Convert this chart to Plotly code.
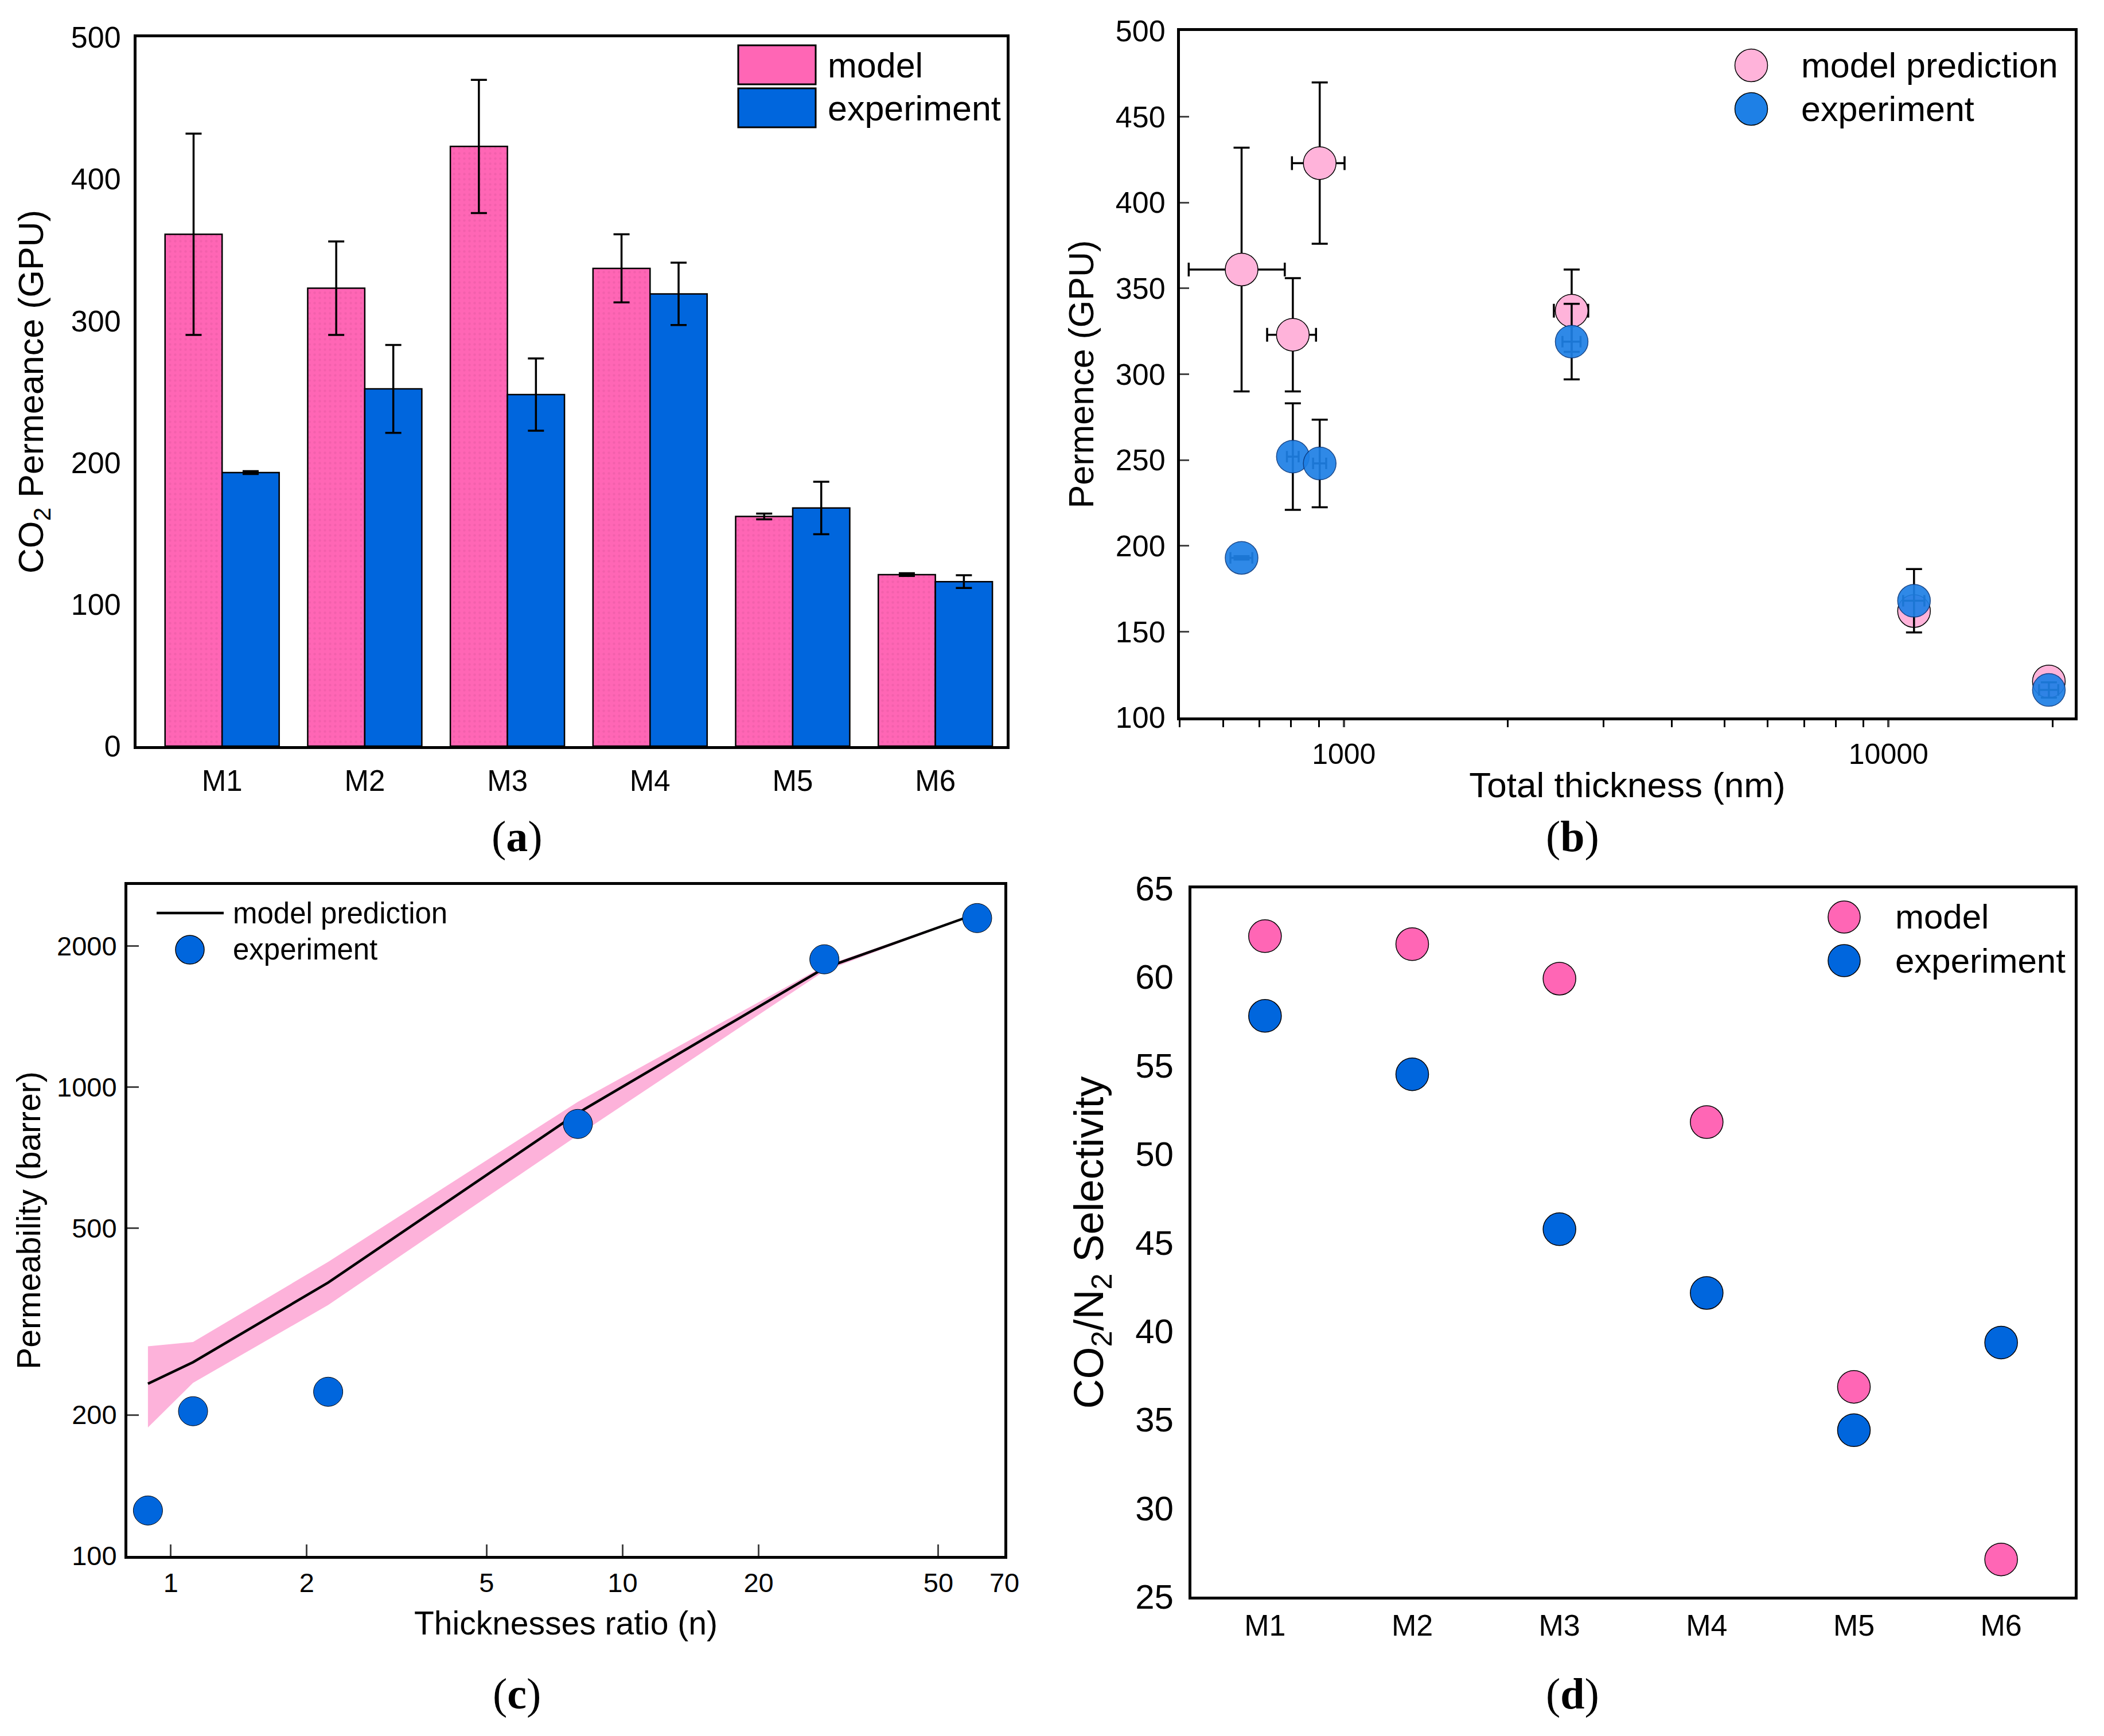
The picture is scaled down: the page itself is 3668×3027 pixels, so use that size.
import plotly.graph_objects as go

W = 3668
H = 3027
# the page body keeps an 8 px margin, so the figure is drawn that much smaller and shifted
PAGE_MARGIN = 8
FIG_W = W - 2 * PAGE_MARGIN
FIG_H = H - 2 * PAGE_MARGIN

# panel a: permeance bars
membranes = ['M1', 'M2', 'M3', 'M4', 'M5', 'M6']
model_perm = [361, 323, 423, 337, 162, 121]
exp_perm = [193, 252, 248, 319, 168, 116]
model_err = [71, 33, 47, 24, 2, 1]
exp_err = [1, 31, 25.5, 22, 18.5, 4.5]

# panel b: permeance against total thickness
thick_nm = [649, 806, 903, 2620, 11140, 19700]
model_thick_err = [130, 83, 100, 190, 200, 300]
exp_thick_err = [30, 20, 25, 100, 500, 800]
thick_minor = [500, 600, 700, 800, 900, 2000, 3000, 4000, 5000, 6000, 7000, 8000, 9000, 20000]

# panel c: permeability against thickness ratio
ratio = [0.89, 1.12, 2.23, 7.96, 27.96, 60.9]
perm_model = [233, 259, 383, 881, 1795, 2347]
perm_upper = [280, 286, 424, 931, 1815, 2350]
perm_lower = [188, 234, 343, 790, 1770, 2345]
perm_exp = [125, 203.6, 224, 835, 1875, 2296]
ratio_ticks = [1, 2, 5, 10, 20, 50, 70]
perm_ticks = [100, 200, 500, 1000, 2000]

# panel d: selectivity
model_sel = [62.3, 61.85, 59.9, 51.8, 36.85, 27.1]
exp_sel = [57.8, 54.5, 45.75, 42.15, 34.4, 39.35]

PINK = '#FF66B5'
BLUE = '#0066DD'
LIGHT_PINK = '#FFB3DA'
MID_BLUE = '#1E80E6'
BAND = '#FDB2DA'
FONT = 'Liberation Sans'


def px(x):
    return (x - PAGE_MARGIN) / FIG_W


def py(y):
    return 1 - (y - PAGE_MARGIN) / FIG_H


def axis(x0, x1, size=48, **kw):
    base = dict(
        domain=[px(x0), px(x1)], showline=True, linecolor='black', linewidth=5, mirror=True, automargin=False,
        showgrid=False, zeroline=False, ticks='', tickfont=dict(family=FONT, size=size, color='black'),
    )
    base.update(kw)
    return base


def yaxis(y0, y1, size=48, **kw):
    base = dict(
        domain=[py(y1), py(y0)], showline=True, linecolor='black', linewidth=5, mirror=True, automargin=False,
        showgrid=False, zeroline=False, ticks='', tickfont=dict(family=FONT, size=size, color='black'),
    )
    base.update(kw)
    return base


def title(text, size, standoff):
    return dict(text=text, font=dict(family=FONT, size=size, color='black'), standoff=standoff)


def label(text, x, y, size, anchor='left', family=FONT):
    return dict(text=text, x=px(x), y=py(y), xref='paper', yref='paper', showarrow=False,
                xanchor=anchor, yanchor='middle', font=dict(family=family, size=size, color='black'))


def dot(x, y, d, color):
    return dict(type='circle', xref='paper', yref='paper', x0=px(x - d / 2), x1=px(x + d / 2),
                y0=py(y + d / 2), y1=py(y - d / 2), fillcolor=color, line=dict(color='black', width=1.5))


def box(x0, y0, x1, y1, color):
    return dict(type='rect', xref='paper', yref='paper', x0=px(x0), x1=px(x1),
                y0=py(y1), y1=py(y0), fillcolor=color, line=dict(color='black', width=3))


fig = go.Figure()

# (a)
for name, vals, errs, col in [('model', model_perm, model_err, PINK), ('experiment', exp_perm, exp_err, BLUE)]:
    marker = dict(color=col, line=dict(color='black', width=2.5))
    if col == PINK:
        marker['pattern'] = dict(shape='.', fgcolor='#E85AA4', bgcolor=PINK, size=9, solidity=0.2)
    fig.add_trace(go.Bar(
        x=membranes, y=vals, name=name, marker=marker,
        error_y=dict(type='data', array=errs, color='black', thickness=3.5, width=14),
        xaxis='x', yaxis='y',
    ))

# (b)
fig.add_trace(go.Scatter(
    x=thick_nm, y=model_perm, mode='markers', name='model prediction',
    marker=dict(color=LIGHT_PINK, size=57, line=dict(color='black', width=1.5)),
    error_x=dict(type='data', array=model_thick_err, color='black', thickness=3.5, width=12),
    error_y=dict(type='data', array=model_err, color='black', thickness=3.5, width=14),
    xaxis='x2', yaxis='y2',
))
fig.add_trace(go.Scatter(
    x=thick_nm, y=exp_perm, mode='markers', name='experiment',
    marker=dict(color=MID_BLUE, size=57, opacity=0.92, line=dict(color='#0A3A80', width=1.5)),
    error_x=dict(type='data', array=exp_thick_err, color='black', thickness=3.5, width=10),
    error_y=dict(type='data', array=exp_err, color='black', thickness=3.5, width=14),
    xaxis='x2', yaxis='y2',
))

# (c)
fig.add_trace(go.Scatter(
    x=ratio + ratio[::-1], y=perm_upper + perm_lower[::-1], mode='lines', fill='toself',
    fillcolor=BAND, line=dict(width=0), hoverinfo='skip', name='model range',
    xaxis='x3', yaxis='y3',
))
fig.add_trace(go.Scatter(
    x=ratio, y=perm_model, mode='lines', name='model prediction',
    line=dict(color='black', width=4.5), xaxis='x3', yaxis='y3',
))
fig.add_trace(go.Scatter(
    x=ratio, y=perm_exp, mode='markers', name='experiment',
    marker=dict(color=BLUE, size=51, line=dict(color='black', width=1)),
    xaxis='x3', yaxis='y3',
))

# (d)
for name, vals, col in [('model', model_sel, PINK), ('experiment', exp_sel, BLUE)]:
    fig.add_trace(go.Scatter(
        x=membranes, y=vals, mode='markers', name=name,
        marker=dict(color=col, size=57, line=dict(color='black', width=1.5)),
        xaxis='x4', yaxis='y4',
    ))

fig.update_layout(
    width=FIG_W, height=FIG_H, margin=dict(l=0, r=0, t=0, b=0), paper_bgcolor='white', plot_bgcolor='white',
    showlegend=False, barmode='group', bargap=0.2, bargroupgap=0,
    font=dict(family=FONT, color='black'),
    xaxis=axis(238, 1755, 51, anchor='y', range=[-0.6, 5.5], ticklabelstandoff=12),
    yaxis=yaxis(65, 1301, 52, anchor='x', range=[0, 500], dtick=100, ticklabelstandoff=12,
                title=title('CO<sub>2</sub> Permeance (GPU)', 61, 30)),
    xaxis2=axis(2057, 3617, 50, anchor='y2', type='log', range=[2.699, 4.342],
                tickvals=[1000, 10000], ticktext=['1000', '10000'], ticks='outside', ticklen=12, tickwidth=4,
                minor=dict(tickvals=thick_minor, ticks='outside', ticklen=12, tickwidth=3, tickcolor='black'),
                ticklabelstandoff=4,
                title=title('Total thickness (nm)', 62, 6)),
    yaxis2=yaxis(54, 1251, 52, anchor='x2', range=[100, 500], dtick=50, ticks='inside', ticklen=16, tickwidth=3,
                 ticklabelstandoff=10, title=title('Permence (GPU)', 61, 20)),
    xaxis3=axis(222, 1751, 47, anchor='y3', type='log', range=[-0.0962, 1.845],
                tickvals=ratio_ticks, ticktext=[str(t) for t in ratio_ticks], ticks='inside', ticklen=20, tickwidth=3,
                ticklabelstandoff=2, title=title('Thicknesses ratio (n)', 57, 26)),
    yaxis3=yaxis(1543, 2713, 47, anchor='x3', type='log', range=[2, 3.4317],
                 tickvals=perm_ticks, ticktext=[str(t) for t in perm_ticks], ticks='inside', ticklen=20, tickwidth=3,
                 ticklabelstandoff=4, title=title('Permeability (barrer)', 57, 12)),
    xaxis4=axis(2077, 3617, 52, anchor='y4', range=[-0.5, 5.5], ticklabelstandoff=1),
    yaxis4=yaxis(1549, 2784, 60, anchor='x4', range=[25, 65], dtick=5, ticklabelstandoff=14,
                 title=title('CO<sub>2</sub>/N<sub>2</sub> Selectivity', 72, 34)),
    shapes=[
        box(1287, 79, 1422, 147, PINK), box(1287, 154, 1422, 222, BLUE),
        dot(3053, 114, 57, LIGHT_PINK), dot(3053, 190, 57, MID_BLUE),
        dict(type='line', xref='paper', yref='paper', x0=px(273), x1=px(390), y0=py(1592), y1=py(1592),
             line=dict(color='black', width=4.5)),
        dot(331, 1656, 50, BLUE),
        dot(3215, 1599, 56, PINK), dot(3215, 1675, 56, BLUE),
    ],
    annotations=[
        label('model', 1441, 114, 61), label('experiment', 1441, 189, 61),
        label('model prediction', 3138, 114, 61), label('experiment', 3138, 190, 61),
        label('model prediction', 404, 1592, 51), label('experiment', 404, 1656, 51),
        label('model', 3302, 1599, 60), label('experiment', 3302, 1675, 60),
        label('(<b>a</b>)', 901, 1458, 76, 'center', 'Liberation Serif'),
        label('(<b>b</b>)', 2741, 1458, 76, 'center', 'Liberation Serif'),
        label('(<b>c</b>)', 901, 2953, 76, 'center', 'Liberation Serif'),
        label('(<b>d</b>)', 2741, 2953, 76, 'center', 'Liberation Serif'),
    ],
)

fig.write_html("out.html")
